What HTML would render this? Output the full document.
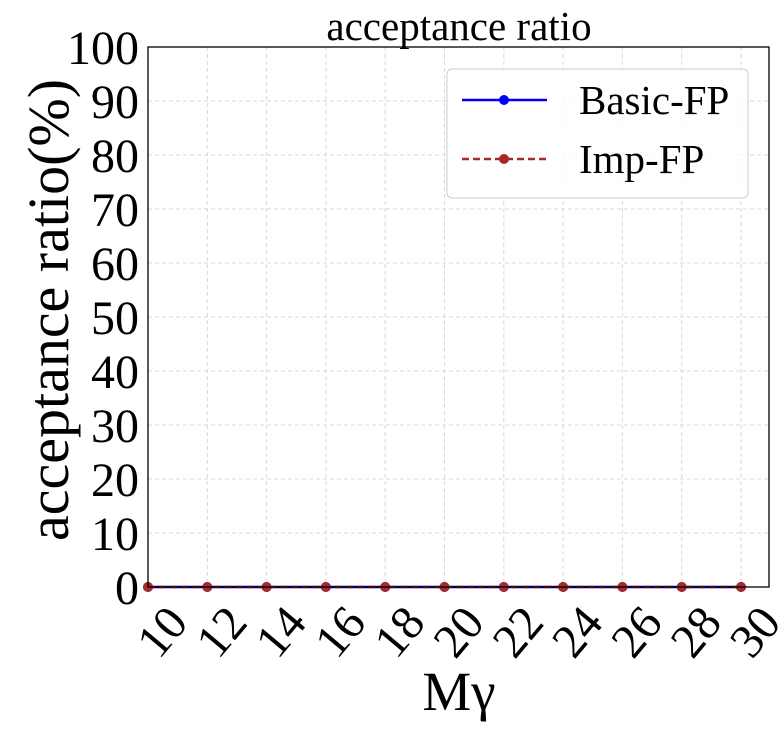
<!DOCTYPE html>
<html><head><meta charset="utf-8"><style>
body{margin:0;background:#fff}
svg text{font-family:"Liberation Serif",serif;fill:#000}
</style></head><body>
<svg width="783" height="730" id="c">
<rect width="783" height="730" fill="#fff"/>
<g id="grid"></g>
<g id="ticks"></g>
<g id="series"></g>
<rect x="148" y="47" width="621" height="540" fill="none" stroke="#000" stroke-width="1.3"/>
<text x="459" y="40" font-size="41" text-anchor="middle">acceptance ratio</text>
<text transform="translate(68,310) rotate(-90)" font-size="58" text-anchor="middle">acceptance ratio(%)</text>
<text x="459" y="710" font-size="55" text-anchor="middle">Mγ</text>
<g>
<rect x="447" y="69" width="301" height="129" rx="5" fill="#fff" fill-opacity="0.8" stroke="#ccc"/>
<g>
<line x1="462" y1="100" x2="547" y2="100" stroke="#0000ff" stroke-width="2.5"/>
<circle cx="504" cy="100" r="5" fill="#0000ff"/>
<text x="579" y="114" font-size="41">Basic-FP</text></g>
<g>
<line x1="462" y1="159" x2="547" y2="159" stroke="#a52a2a" stroke-width="2.5" stroke-dasharray="7,4"/>
<circle cx="504" cy="159" r="5" fill="#a52a2a"/>
<text x="579" y="173" font-size="41">Imp-FP</text></g>
</g>
</svg>
<script>
const categories=[10,12,14,16,18,20,22,24,26,28,30];
const basicFP=[0,0,0,0,0,0,0,0,0,0,0];
const impFP=[0,0,0,0,0,0,0,0,0,0,0];
const yTicks=[0,10,20,30,40,50,60,70,80,90,100];
const NS="http://www.w3.org/2000/svg";
const X=v=>148+(v-10)*29.65, Y=v=>587-v*5.4;
function mk(t,a,p){const e=document.createElementNS(NS,t);for(const k in a)e.setAttribute(k,a[k]);p.appendChild(e);return e;}
const g=document.getElementById('grid'),tk=document.getElementById('ticks'),s=document.getElementById('series');
yTicks.forEach(v=>{
 const l=mk('line',{x1:148,x2:769,y1:Y(v),y2:Y(v),stroke:'#d8d8d8','stroke-dasharray':'4,3'},g);
 
 
 const t=mk('text',{x:139,y:Y(v)+17,'font-size':48,'text-anchor':'end'},tk);t.textContent=v;
 
 
});
categories.forEach(v=>{
 const l=mk('line',{x1:X(v),x2:X(v),y1:47,y2:587,stroke:'#d8d8d8','stroke-dasharray':'4,3'},g);
 
 
 mk('line',{x1:X(v),x2:X(v),y1:587,y2:592,stroke:'#000'},tk);
 const t=mk('text',{transform:`translate(${X(v)+16},${602}) rotate(-50)`,'font-size':48,'text-anchor':'end','dominant-baseline':'hanging'},tk);t.textContent=v;
 
 
});
function draw(vals,color,dash,name){
 const p=mk('polyline',{points:categories.map((c,i)=>X(c)+','+Y(vals[i])).join(' '),fill:'none',stroke:color,'stroke-width':2.5,'stroke-dasharray':dash},s);
 
 
 categories.forEach((c,i)=>{const m=mk('circle',{cx:X(c),cy:Y(vals[i]),r:5,fill:color},s);
 
 });
}
draw(basicFP,'#0000ff','none','basic-fp');
draw(impFP,'#a52a2a','7,4','imp-fp');
</script>
</body></html>
